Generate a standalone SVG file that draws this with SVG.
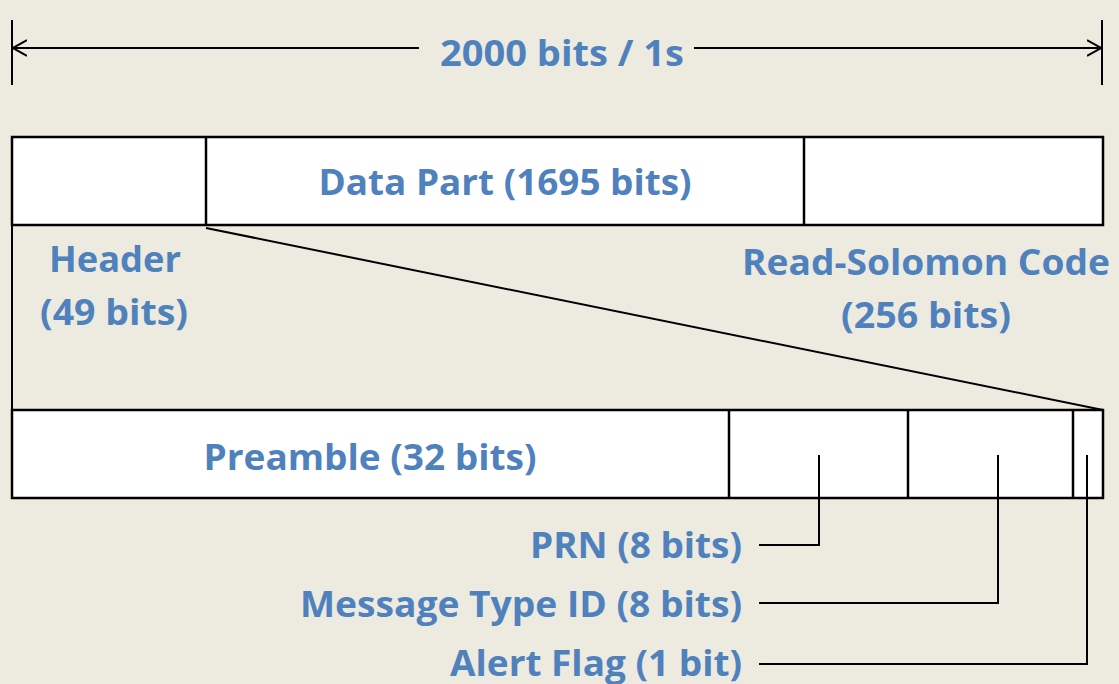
<svg xmlns="http://www.w3.org/2000/svg" width="1119" height="684" viewBox="0 0 1119 684">
<defs>
<marker id="open" viewBox="0 0 14 18" refX="14" refY="9" markerWidth="14" markerHeight="18" markerUnits="userSpaceOnUse" orient="auto-start-reverse">
<path d="M0,1 L14,9 L0,17" fill="none" stroke="#000" stroke-width="2"/>
</marker>
<style>
.box{fill:#fff;stroke:#000;stroke-width:2.5}
.ln{fill:none;stroke:#000;stroke-width:2}
.t{font-family:"Open Sans","Noto Sans","Liberation Sans",sans-serif;font-weight:bold;font-size:36px;fill:#4F81BD}
</style>
</defs>
<rect width="1119" height="684" fill="#EDEAE0"/>
<g id="dim-label"><text class="t" x="562" y="66" text-anchor="middle" textLength="244" lengthAdjust="spacingAndGlyphs">2000 bits / 1s</text></g>
<g id="frame">
<rect class="box" x="12" y="137" width="1091" height="88"/>
<line class="ln" x1="206" y1="137" x2="206" y2="225" style="stroke-width:2.5"/>
<line class="ln" x1="804" y1="137" x2="804" y2="225" style="stroke-width:2.5"/>
</g>
<g id="data-part"><text class="t" x="505" y="195" text-anchor="middle" textLength="373" lengthAdjust="spacingAndGlyphs">Data Part (1695 bits)</text></g>
<g id="header-label">
<text class="t" x="115" y="272" text-anchor="middle" textLength="132" lengthAdjust="spacingAndGlyphs">Header</text>
<text class="t" x="114" y="325" text-anchor="middle" textLength="148" lengthAdjust="spacingAndGlyphs">(49 bits)</text>
</g>
<g id="rs-label">
<text class="t" x="926" y="275" text-anchor="middle" textLength="368" lengthAdjust="spacingAndGlyphs">Read-Solomon Code</text>
<text class="t" x="926" y="328" text-anchor="middle" textLength="170" lengthAdjust="spacingAndGlyphs">(256 bits)</text>
</g>
<g id="header-detail">
<rect class="box" x="12" y="410" width="1091" height="88"/>
<line class="ln" x1="729" y1="410" x2="729" y2="498" style="stroke-width:2.5"/>
<line class="ln" x1="908" y1="410" x2="908" y2="498" style="stroke-width:2.5"/>
<line class="ln" x1="1073" y1="410" x2="1073" y2="498" style="stroke-width:2.5"/>
</g>
<g id="preamble"><text class="t" x="370" y="470" text-anchor="middle" textLength="333" lengthAdjust="spacingAndGlyphs">Preamble (32 bits)</text></g>
<g id="prn"><text class="t" x="742" y="558" text-anchor="end" textLength="212" lengthAdjust="spacingAndGlyphs">PRN (8 bits)</text></g>
<g id="msgtype"><text class="t" x="742" y="617" text-anchor="end" textLength="442" lengthAdjust="spacingAndGlyphs">Message Type ID (8 bits)</text></g>
<g id="alert"><text class="t" x="742" y="676" text-anchor="end" textLength="292" lengthAdjust="spacingAndGlyphs">Alert Flag (1 bit)</text></g>
<g id="connectors">
<line class="ln" x1="12" y1="20" x2="12" y2="85"/>
<line class="ln" x1="1102" y1="20" x2="1102" y2="85"/>
<line class="ln" x1="419" y1="48" x2="13" y2="48" marker-end="url(#open)"/>
<line class="ln" x1="694" y1="48" x2="1101" y2="48" marker-end="url(#open)"/>
<line class="ln" x1="12" y1="226" x2="12" y2="409"/>
<line class="ln" x1="206" y1="228" x2="1103" y2="410"/>
<polyline class="ln" points="819,455 819,545 759,545"/>
<polyline class="ln" points="998,455 998,603 759,603"/>
<polyline class="ln" points="1087,455 1087,664 759,664"/>
</g>
</svg>
